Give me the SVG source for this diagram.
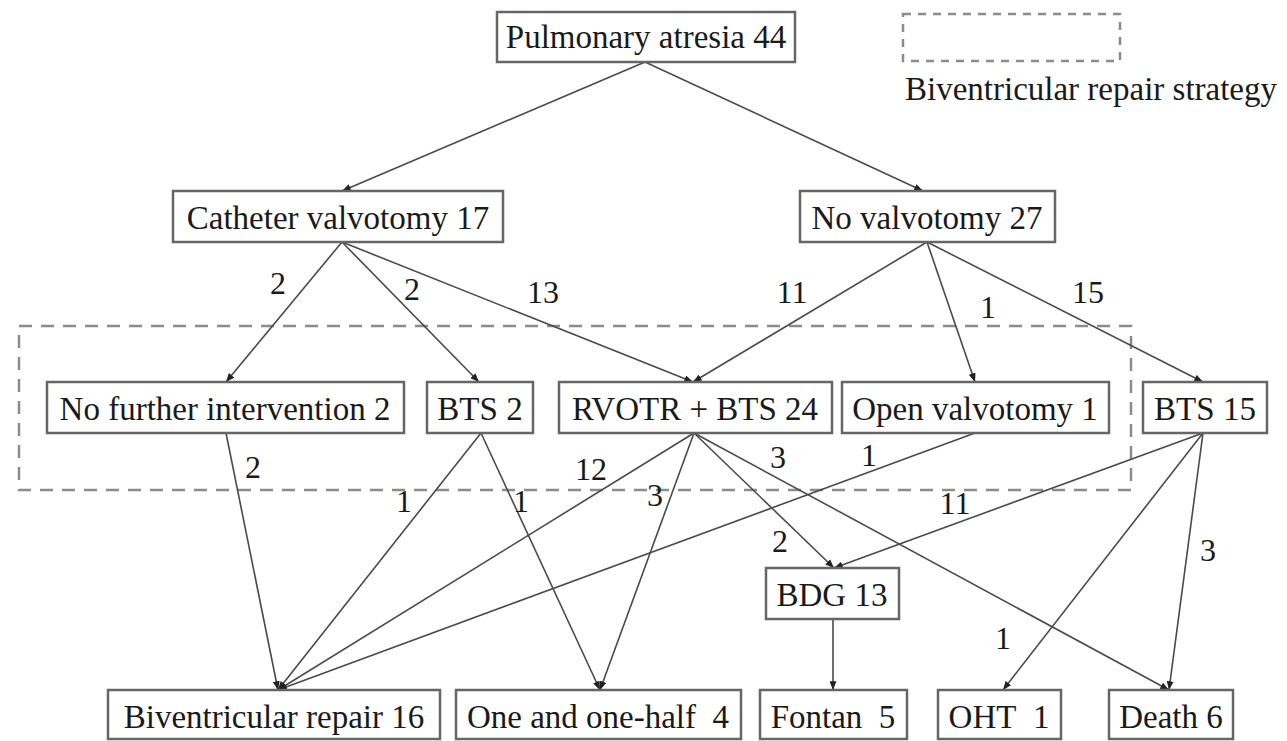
<svg xmlns="http://www.w3.org/2000/svg" width="1287" height="741" viewBox="0 0 1287 741">
<style>
.box{fill:#fff;stroke:#666;stroke-width:2.5}
.t{font-family:"Liberation Serif","Times New Roman",serif;font-size:33px;fill:#1a1a1a;text-anchor:middle}
.lbl{font-family:"Liberation Serif","Times New Roman",serif;font-size:32px;fill:#1a1a1a;text-anchor:middle}
.c{stroke:#4a4a4a;stroke-width:1.6;fill:none;marker-end:url(#ah)}
.dash{fill:none;stroke:#8c8c8c;stroke-width:2.5;stroke-dasharray:13 9}
</style>
<defs>
<marker id="ah" viewBox="0 0 10 8" refX="10" refY="4" markerWidth="9" markerHeight="7" markerUnits="userSpaceOnUse" orient="auto">
<path d="M0,0 L10,4 L0,8 z" fill="#222"/>
</marker>
</defs>
<rect width="1287" height="741" fill="#fff"/>

<g id="legend">
<rect class="dash" x="903" y="14" width="217" height="47" style="stroke-dasharray:8 7"/>
<text x="905" y="100" class="t" style="text-anchor:start">Biventricular repair strategy</text>
</g>
<g id="strategy-region">
<rect class="dash" x="19" y="326" width="1112" height="164"/>
</g>

<g id="connectors">
<line class="c" x1="645" y1="62" x2="342" y2="191"/>
<line class="c" x1="645" y1="62" x2="923" y2="191"/>
<line class="c" x1="342" y1="242" x2="226" y2="382"/>
<line class="c" x1="342" y1="242" x2="479" y2="382"/>
<line class="c" x1="342" y1="242" x2="693" y2="382"/>
<line class="c" x1="927" y1="242" x2="693" y2="382"/>
<line class="c" x1="927" y1="242" x2="975" y2="382"/>
<line class="c" x1="927" y1="242" x2="1203" y2="382"/>
<line class="c" x1="226" y1="433" x2="278" y2="690"/>
<line class="c" x1="481" y1="433" x2="278" y2="690"/>
<line class="c" x1="481" y1="433" x2="600" y2="690"/>
<line class="c" x1="694" y1="433" x2="278" y2="690"/>
<line class="c" x1="694" y1="433" x2="600" y2="690"/>
<line class="c" x1="694" y1="433" x2="834" y2="568"/>
<line class="c" x1="694" y1="433" x2="1169" y2="690"/>
<line class="c" x1="975" y1="433" x2="278" y2="690"/>
<line class="c" x1="1203" y1="433" x2="834" y2="568"/>
<line class="c" x1="1203" y1="433" x2="1003" y2="690"/>
<line class="c" x1="1203" y1="433" x2="1169" y2="690"/>
<line class="c" x1="833" y1="619" x2="833" y2="690"/>
</g>

<g id="labels">
<text class="lbl" x="278" y="294">2</text>
<text class="lbl" x="412" y="300">2</text>
<text class="lbl" x="543" y="303">13</text>
<text class="lbl" x="792" y="303">11</text>
<text class="lbl" x="988" y="318">1</text>
<text class="lbl" x="1088" y="303">15</text>
<text class="lbl" x="253" y="478">2</text>
<text class="lbl" x="404" y="512">1</text>
<text class="lbl" x="521" y="512">1</text>
<text class="lbl" x="591" y="480">12</text>
<text class="lbl" x="655" y="506">3</text>
<text class="lbl" x="778" y="468">3</text>
<text class="lbl" x="869" y="466">1</text>
<text class="lbl" x="955" y="514">11</text>
<text class="lbl" x="780" y="552">2</text>
<text class="lbl" x="1208" y="561">3</text>
<text class="lbl" x="1003" y="649">1</text>
</g>

<g id="n-pa"><rect class="box" x="497" y="12" width="298" height="50"/><text class="t" x="646" y="48">Pulmonary atresia 44</text></g>
<g id="n-cath"><rect class="box" x="173" y="191" width="330" height="51"/><text class="t" x="338" y="229">Catheter valvotomy 17</text></g>
<g id="n-nov"><rect class="box" x="800" y="191" width="255" height="51"/><text class="t" x="927" y="229">No valvotomy 27</text></g>
<g id="n-nfi"><rect class="box" x="47" y="382" width="357" height="51"/><text class="t" x="225" y="420">No further intervention 2</text></g>
<g id="n-bts2"><rect class="box" x="427" y="382" width="106" height="51"/><text class="t" x="480" y="420">BTS 2</text></g>
<g id="n-rvotr"><rect class="box" x="559" y="382" width="273" height="51"/><text class="t" x="695" y="420">RVOTR + BTS 24</text></g>
<g id="n-ov"><rect class="box" x="842" y="382" width="267" height="51"/><text class="t" x="975" y="420">Open valvotomy 1</text></g>
<g id="n-bts15"><rect class="box" x="1143" y="382" width="124" height="51"/><text class="t" x="1205" y="420">BTS 15</text></g>
<g id="n-bdg"><rect class="box" x="766" y="568" width="133" height="51"/><text class="t" x="832" y="606">BDG 13</text></g>
<g id="n-biv"><rect class="box" x="108" y="690" width="332" height="49"/><text class="t" x="274" y="728">Biventricular repair 16</text></g>
<g id="n-one"><rect class="box" x="456" y="690" width="285" height="49"/><text class="t" x="598" y="728">One and one-half&#160; 4</text></g>
<g id="n-fontan"><rect class="box" x="760" y="690" width="147" height="49"/><text class="t" x="833" y="728">Fontan&#160; 5</text></g>
<g id="n-oht"><rect class="box" x="938" y="690" width="123" height="49"/><text class="t" x="999" y="728">OHT&#160; 1</text></g>
<g id="n-death"><rect class="box" x="1109" y="690" width="124" height="49"/><text class="t" x="1171" y="728">Death 6</text></g>
</svg>
